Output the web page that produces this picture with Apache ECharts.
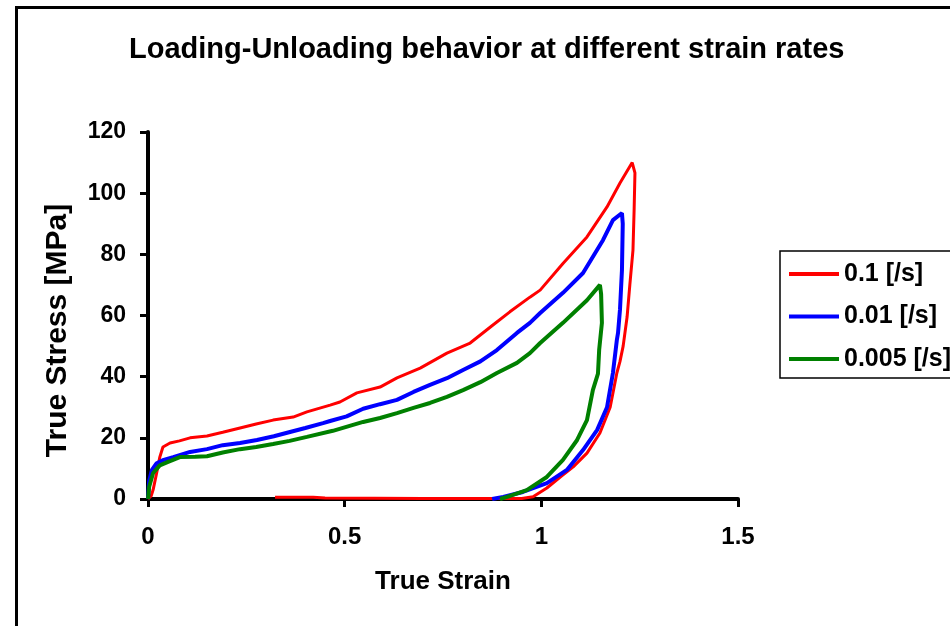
<!DOCTYPE html>
<html>
<head>
<meta charset="utf-8">
<script src="https://cdn.jsdelivr.net/npm/echarts@6/dist/echarts.min.js"></script>
<style>
html,body{margin:0;padding:0;background:#fff;}
#chart{width:950px;height:626px;}
</style>
</head>
<body>
<div id="chart"></div>
<script>
const seriesNames = ['0.1 [/s]', '0.01 [/s]', '0.005 [/s]'];
const xTicks = [0, 0.5, 1, 1.5];
const yTicks = [0, 20, 40, 60, 80, 100, 120];

const redStrain = [0, 0.008, 0.013, 0.022, 0.03, 0.038, 0.056, 0.08, 0.107, 0.15, 0.19, 0.234, 0.275, 0.318, 0.369, 0.404, 0.463, 0.488, 0.531, 0.59, 0.633, 0.692, 0.76, 0.819, 0.877, 0.92, 0.971, 0.997, 1.055, 1.116, 1.167, 1.2, 1.231,
  1.238, 1.236, 1.233, 1.225, 1.218, 1.208, 1.2, 1.192, 1.175, 1.149, 1.116, 1.081, 1.048, 1.014, 0.979, 0.95, 0.7, 0.45, 0.42, 0.323];
const redStress = [0, 1, 3, 8.5, 13.7, 17, 18.3, 19, 20, 20.6, 21.8, 23.2, 24.5, 25.8, 26.8, 28.5, 30.7, 31.7, 34.7, 36.6, 39.6, 42.8, 47.7, 51, 56.9, 61.2, 66, 68.3, 77, 85.7, 95.5, 103.3, 110,
  106.6, 95, 81.4, 70, 59.5, 50, 45, 41.2, 30, 21.6, 15, 10.5, 7.2, 3.6, 0.7, 0.2, 0.2, 0.3, 0.6, 0.6];

const blueStrain = [0, 0.003, 0.01, 0.022, 0.04, 0.064, 0.107, 0.15, 0.19, 0.234, 0.277, 0.32, 0.361, 0.4, 0.445, 0.463, 0.505, 0.547, 0.59, 0.633, 0.675, 0.717, 0.76, 0.801, 0.845, 0.887, 0.938, 0.971, 0.997, 1.055, 1.106, 1.157, 1.182, 1.205,
  1.207, 1.205, 1.2, 1.195, 1.192, 1.182, 1.167, 1.142, 1.106, 1.065, 1.014, 0.953, 0.903, 0.875];
const blueStress = [0, 6, 9.5, 11.7, 12.8, 13.7, 15.4, 16.3, 17.6, 18.3, 19.3, 20.5, 21.9, 23.2, 24.8, 25.5, 27, 29.5, 31, 32.4, 35, 37.3, 39.5, 42.2, 45, 48.7, 54.3, 57.6, 60.8, 67.4, 73.9, 84.7, 91.2, 93.5,
  90, 74.9, 62, 54.3, 52, 41.2, 30, 22.6, 16, 9.5, 5.2, 2.3, 0.7, 0];

const greenStrain = [0, 0.003, 0.013, 0.03, 0.048, 0.081, 0.12, 0.15, 0.19, 0.234, 0.275, 0.318, 0.36, 0.404, 0.47, 0.547, 0.59, 0.633, 0.675, 0.717, 0.76, 0.801, 0.845, 0.887, 0.938, 0.971, 0.997, 1.055, 1.116, 1.149,
  1.152, 1.154, 1.147, 1.144, 1.131, 1.116, 1.091, 1.055, 1.014, 0.963, 0.913, 0.895];
const greenStress = [0, 4, 8.5, 11, 12, 13.7, 13.8, 14, 15.2, 16.3, 17, 18, 19, 20.3, 22.3, 25.2, 26.5, 28.1, 29.8, 31.4, 33.4, 35.6, 38.2, 41.2, 44.5, 47.7, 51, 57.6, 65, 70,
  67, 57.6, 48.7, 41, 35.6, 25.8, 19.3, 12.8, 7.2, 2.9, 0.7, 0];

function pairs(xs, ys) { return xs.map((x, i) => [x, ys[i]]); }

const FONT = '"Liberation Sans", Arial, sans-serif';
const chart = echarts.init(document.getElementById('chart'));
const colors = ['#ff0000', '#0000ff', '#008000'];
const dataSets = [pairs(redStrain, redStress), pairs(blueStrain, blueStress), pairs(greenStrain, greenStress)];

chart.setOption({
  animation: false,
  backgroundColor: '#ffffff',
  color: colors,
  title: {
    text: 'Loading-Unloading behavior at different strain rates',
    left: 124, top: 30,
    textStyle: { fontFamily: FONT, fontWeight: 'bold', fontSize: 29, color: '#000' }
  },
  graphic: [{
    type: 'rect', z: 100, silent: true,
    shape: { x: 16.5, y: 7.5, width: 1000, height: 1000 },
    style: { fill: 'none', stroke: '#000', lineWidth: 3 }
  }],
  legend: {
    orient: 'vertical', left: 780, top: 251,
    padding: [10, 12, 6, 9],
    borderColor: '#000', borderWidth: 1.5,
    icon: 'rect', itemWidth: 50, itemHeight: 4, itemGap: 16.5,
    textStyle: { fontFamily: FONT, fontWeight: 'bold', fontSize: 25, color: '#000', lineHeight: 26 },
    data: seriesNames
  },
  grid: { left: 148, right: 212, top: 132, bottom: 127, containLabel: false },
  xAxis: {
    type: 'value', min: xTicks[0], max: xTicks[xTicks.length - 1], interval: 0.5,
    name: 'True Strain', nameLocation: 'middle', nameGap: 70,
    nameTextStyle: { fontFamily: FONT, fontWeight: 'bold', fontSize: 26, color: '#000' },
    axisLine: { show: true, onZero: false, lineStyle: { color: '#000', width: 4 } },
    axisTick: { show: true, length: 8, lineStyle: { color: '#000', width: 3 } },
    axisLabel: { margin: 26, fontFamily: FONT, fontWeight: 'bold', fontSize: 24, color: '#000' },
    splitLine: { show: false }
  },
  yAxis: {
    type: 'value', min: yTicks[0], max: yTicks[yTicks.length - 1], interval: 20,
    name: 'True Stress [MPa]', nameLocation: 'middle', nameGap: 75,
    nameTextStyle: { fontFamily: FONT, fontWeight: 'bold', fontSize: 30, color: '#000', padding: [0, 30, 0, 0] },
    axisLine: { show: true, onZero: false, lineStyle: { color: '#000', width: 4 } },
    axisTick: { show: true, length: 8, lineStyle: { color: '#000', width: 3 } },
    axisLabel: { margin: 22, fontFamily: FONT, fontWeight: 'bold', fontSize: 23, color: '#000' },
    splitLine: { show: false }
  },
  series: seriesNames.map((n, i) => ({
    name: n, type: 'line', data: dataSets[i], showSymbol: false, symbol: 'none',
    clip: false,
    lineStyle: { color: colors[i], width: i === 0 ? 3 : 4 },
    itemStyle: { color: colors[i] }
  }))
});
</script>
</body>
</html>
